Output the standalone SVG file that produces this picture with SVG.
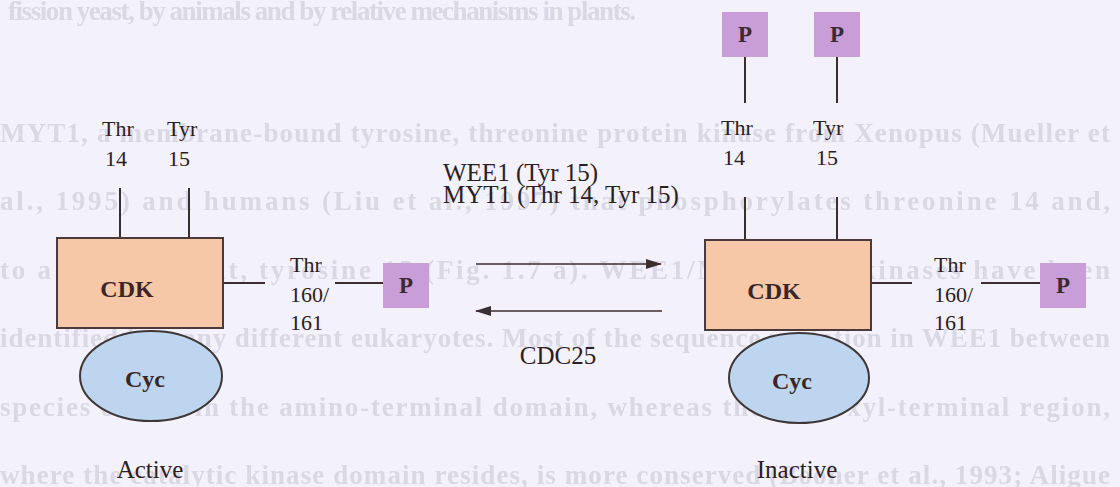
<svg xmlns="http://www.w3.org/2000/svg" width="1120" height="487" viewBox="0 0 1120 487">
  <style>
    .page { font-family: "Liberation Serif", serif; font-size: 27px; font-weight: bold; fill: #dad8e4; }
    .lbl { font-family: "Liberation Serif", serif; font-size: 22px; fill: #2b2020; }
    .big { font-size: 25px; }
    .name { font-family: "Liberation Serif", serif; font-size: 24px; font-weight: bold; fill: #3a2626; text-anchor: middle; }
    .cdk { fill: #f6c8a8; stroke: #4b3a3a; stroke-width: 2; }
    .cyc { fill: #bdd5ef; stroke: #3f3636; stroke-width: 2; }
    .pbox { fill: #c99dd7; }
    .ptxt { font-family: "Liberation Serif", serif; font-size: 23px; font-weight: bold; fill: #3a2a33; text-anchor: middle; }
    .bond { stroke: #3b2e2e; stroke-width: 2; fill: none; }
    .arrow { stroke: #3b2e2e; stroke-width: 1.6; fill: none; }
  </style>
  <defs>
    <marker id="head" viewBox="0 0 16 10" refX="15" refY="5" markerWidth="16" markerHeight="10" markerUnits="userSpaceOnUse" orient="auto">
      <path d="M0,0 L16,5 L0,10 Z" fill="#3b2e2e"/>
    </marker>
    <filter id="soft" x="-2%" y="-20%" width="104%" height="140%">
      <feGaussianBlur stdDeviation="0.7"/>
    </filter>
  </defs>

  <rect width="1120" height="487" fill="#f3f1fb"/>

  <!-- show-through of the facing page -->
  <g id="page-text" class="page" filter="url(#soft)">
    <text x="8" y="20" textLength="628" lengthAdjust="spacing">fission yeast, by animals and by relative mechanisms in plants.</text>
    <text x="0" y="142" textLength="1110" lengthAdjust="spacing">MYT1, a membrane-bound tyrosine, threonine protein kinase from Xenopus (Mueller et</text>
    <text x="0" y="210" textLength="1110" lengthAdjust="spacing">al., 1995) and humans (Liu et al., 1997) that phosphorylates threonine 14 and,</text>
    <text x="0" y="279" textLength="1110" lengthAdjust="spacing">to a lesser extent, tyrosine 15 (Fig. 1.7 a). WEE1/MIK1-type kinases have been</text>
    <text x="0" y="347" textLength="1110" lengthAdjust="spacing">identified in many different eukaryotes. Most of the sequence variation in WEE1 between</text>
    <text x="0" y="416" textLength="1110" lengthAdjust="spacing">species occurs in the amino-terminal domain, whereas the carboxyl-terminal region,</text>
    <text x="0" y="484" textLength="1110" lengthAdjust="spacing">where the catalytic kinase domain resides, is more conserved (Booher et al., 1993; Aligue</text>
  </g>

  <!-- connectors: residue bonds and reaction arrows -->
  <g id="connectors">
    <line class="bond" x1="120" y1="188" x2="120" y2="238"/>
    <line class="bond" x1="189" y1="188" x2="189" y2="238"/>
    <line class="bond" x1="223" y1="283" x2="265" y2="283"/>
    <line class="bond" x1="335" y1="283" x2="383" y2="283"/>

    <line class="bond" x1="745" y1="57" x2="745" y2="103"/>
    <line class="bond" x1="837" y1="57" x2="837" y2="103"/>
    <line class="bond" x1="745" y1="197" x2="745" y2="240"/>
    <line class="bond" x1="837" y1="197" x2="837" y2="240"/>
    <line class="bond" x1="871" y1="283" x2="912" y2="283"/>
    <line class="bond" x1="981" y1="283" x2="1040" y2="283"/>

    <line class="arrow" x1="476" y1="264" x2="661" y2="264" marker-end="url(#head)"/>
    <line class="arrow" x1="662" y1="311" x2="476" y2="311" marker-end="url(#head)"/>
  </g>

  <!-- active complex -->
  <g id="cdk-active">
    <rect class="cdk" x="57" y="238" width="166" height="90"/>
    <text class="name" x="127" y="297">CDK</text>
  </g>
  <g id="cyc-active">
    <ellipse class="cyc" cx="151" cy="376" rx="71" ry="45"/>
    <text class="name" x="145" y="387">Cyc</text>
  </g>
  <g id="sites-active" class="lbl">
    <text x="102" y="136">Thr</text>
    <text x="105" y="166">14</text>
    <text x="167" y="136">Tyr</text>
    <text x="168" y="166">15</text>
    <text x="290" y="272">Thr</text>
    <text x="290" y="302">160/</text>
    <text x="290" y="330">161</text>
  </g>
  <g id="p-active-161">
    <rect class="pbox" x="383" y="263" width="46" height="45"/>
    <text class="ptxt" x="406" y="293">P</text>
  </g>
  <text id="label-active" class="lbl big" x="150" y="478" text-anchor="middle">Active</text>

  <!-- reaction labels -->
  <g id="kinases" class="lbl big">
    <text x="443" y="181">WEE1 (Tyr 15)</text>
    <text x="443" y="203">MYT1 (Thr 14, Tyr 15)</text>
  </g>
  <text id="phosphatase" class="lbl big" x="558" y="364" text-anchor="middle">CDC25</text>

  <!-- inactive complex -->
  <g id="cdk-inactive">
    <rect class="cdk" x="705" y="240" width="166" height="90"/>
    <text class="name" x="774" y="299">CDK</text>
  </g>
  <g id="cyc-inactive">
    <ellipse class="cyc" cx="799" cy="378" rx="70" ry="45"/>
    <text class="name" x="792" y="389">Cyc</text>
  </g>
  <g id="sites-inactive" class="lbl">
    <text x="721" y="135">Thr</text>
    <text x="723" y="165">14</text>
    <text x="813" y="135">Tyr</text>
    <text x="816" y="165">15</text>
    <text x="934" y="272">Thr</text>
    <text x="934" y="302">160/</text>
    <text x="934" y="330">161</text>
  </g>
  <g id="p-inactive-14">
    <rect class="pbox" x="722" y="12" width="46" height="45"/>
    <text class="ptxt" x="745" y="42">P</text>
  </g>
  <g id="p-inactive-15">
    <rect class="pbox" x="814" y="12" width="46" height="45"/>
    <text class="ptxt" x="837" y="42">P</text>
  </g>
  <g id="p-inactive-161">
    <rect class="pbox" x="1040" y="263" width="46" height="45"/>
    <text class="ptxt" x="1063" y="293">P</text>
  </g>
  <text id="label-inactive" class="lbl big" x="797" y="478" text-anchor="middle">Inactive</text>
</svg>
